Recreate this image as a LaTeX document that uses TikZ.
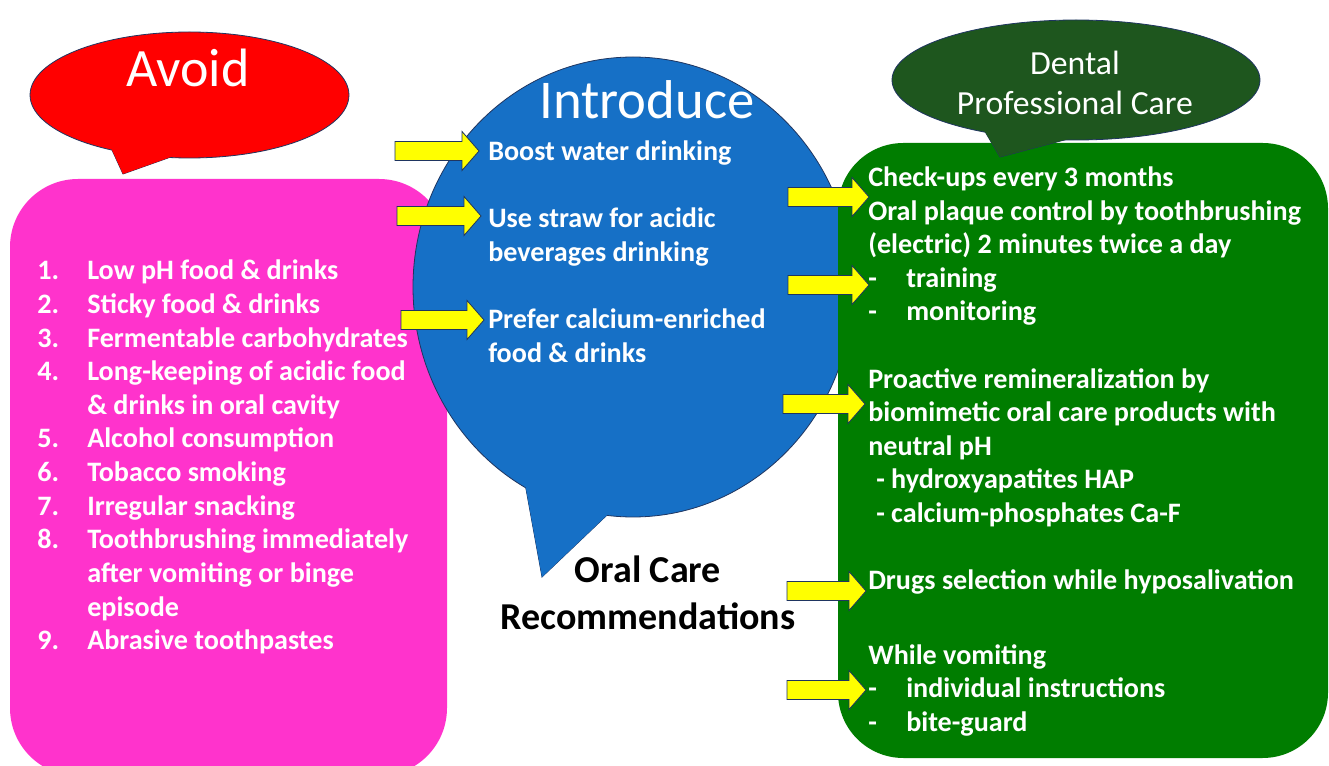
\documentclass[tikz,border=0pt]{standalone}
\usepackage{fontspec}
\setmainfont{Carlito}
\usetikzlibrary{calc}
\definecolor{pinkbox}{HTML}{FF33CC}
\definecolor{redbub}{HTML}{FF0000}
\definecolor{bluebub}{HTML}{1670C6}
\definecolor{greenbox}{HTML}{007D00}
\definecolor{dgreen}{HTML}{1E561E}
\definecolor{navy}{HTML}{1F3560}
\definecolor{yel}{HTML}{FFFF00}
\newcommand\yarr[3]{%
  \draw[yarrow] (#1,#2-9.5) -- (#3-17,#2-9.5) -- (#3-17,#2-19.5) -- (#3,#2)
    -- (#3-17,#2+19.5) -- (#3-17,#2+9.5) -- (#1,#2+9.5) -- cycle;}
\begin{document}
\begin{tikzpicture}[x=0.75pt,y=-0.75pt,
  body/.style={text=white,font=\bfseries\fontsize{21.1}{25}\selectfont,inner sep=0pt,anchor=base west},
  outl/.style={draw=navy,line width=0.6pt},
  yarrow/.style={fill=yel,draw=navy,line width=0.6pt,line join=miter},
  title/.style={text=white,inner sep=0pt,anchor=base}]
\useasboundingbox (0,0) rectangle (1329,766);
\clip (0,0) rectangle (1329,766);
\fill[white] (0,0) rectangle (1329,766);

% pink box
\fill[pinkbox,rounded corners=51pt] (10,179) rectangle (447,776);

% red bubble
\coordinate (rt) at (123,174);
\path[fill=redbub,outl] (rt) -- ($(rt)!1.5!(112,150)$) -- ($(rt)!1.5!(168,158)$) -- cycle;
\path[fill=redbub,outl] (189.5,95) ellipse [x radius=119.6pt, y radius=47.25pt];
\fill[redbub] (rt) -- ($(rt)!1.5!(112,150)$) -- ($(rt)!1.5!(168,158)$) -- cycle;
\node[title,font=\fontsize{40.5}{45}\selectfont] (avoid) at (188,87) {Avoid};

% blue bubble
\coordinate (bt) at (542,577);
\path[fill=bluebub,outl] (bt) -- ($(bt)!1.5!(526,489)$) -- ($(bt)!1.5!(605,517)$) -- cycle;
\path[fill=bluebub,outl] (633,287) ellipse [x radius=165pt, y radius=172.5pt];
\fill[bluebub] (bt) -- ($(bt)!1.5!(526,489)$) -- ($(bt)!1.5!(605,517)$) -- cycle;
\node[title,font=\fontsize{41}{46}\selectfont] (intro) at (647,119) {Introduce};

% green box
\fill[greenbox,rounded corners=49pt] (838,143) rectangle (1328,758);

% dark green bubble
\coordinate (gt) at (1000,157);
\path[fill=dgreen,outl] (gt) -- ($(gt)!1.5!(987,135)$) -- ($(gt)!1.5!(1053,143)$) -- cycle;
\path[fill=dgreen,outl] (1076,80) ellipse [x radius=138pt, y radius=45pt];
\fill[dgreen] (gt) -- ($(gt)!1.5!(987,135)$) -- ($(gt)!1.5!(1053,143)$) -- cycle;
\node[title,font=\fontsize{25.3}{30}\selectfont] (dental) at (1075,75) {Dental};
\node[title,font=\fontsize{25.3}{30}\selectfont] (profcare) at (1075,115) {Professional Care};

% left list
\foreach \n/\t [count=\i] in {1./Low pH food \& drinks, 2./Sticky food \& drinks,
   3./Fermentable carbohydrates, 4./Long-keeping of acidic food,
   /\& drinks in oral cavity, 5./Alcohol consumption, 6./Tobacco smoking,
   7./Irregular snacking, 8./Toothbrushing immediately, /after vomiting or binge,
   /episode, 9./Abrasive toothpastes}{
  \node[body] (ln\i) at (37,{280+(\i-1)*33.6}) {\n};
  \node[body] (lt\i) at (87,{280+(\i-1)*33.6}) {\t};
}

% introduce texts
\node[body] (i1) at (488,161) {Boost water drinking};
\node[body] (i2) at (488,228) {Use straw for acidic};
\node[body] (i3) at (488,262) {beverages drinking};
\node[body] (i4) at (488,329) {Prefer calcium-enriched};
\node[body] (i5) at (488,363) {food \& drinks};

% oral care
\node[anchor=base,inner sep=0pt,font=\bfseries\fontsize{28.5}{33}\selectfont] (oc1) at (648,582) {Oral Care};
\node[anchor=base,inner sep=0pt,font=\bfseries\fontsize{28.5}{33}\selectfont] (oc2) at (648,629) {Recommendations};

% right texts
\node[body] (r1) at (868,187) {Check-ups every 3 months};
\node[body] (r2) at (868,220.5) {Oral plaque control by toothbrushing};
\node[body] (r3) at (868,254) {(electric) 2 minutes twice a day};
\node[body] (r4d) at (868,288) {-};
\node[body] (r4) at (906,288) {training};
\node[body] (r5d) at (868,321) {-};
\node[body] (r5) at (906,321) {monitoring};
\node[body] (r6) at (868,389) {Proactive remineralization by};
\node[body] (r7) at (868,422) {biomimetic oral care products with};
\node[body] (r8) at (868,455.5) {neutral pH};
\node[body] (r9) at (876,489) {- hydroxyapatites HAP};
\node[body] (r10) at (876,522.5) {- calcium-phosphates Ca-F};
\node[body] (r11) at (868,589.5) {Drugs selection while hyposalivation};
\node[body] (r12) at (868,664) {While vomiting};
\node[body] (r13d) at (868,697) {-};
\node[body] (r13) at (906,697) {individual instructions};
\node[body] (r14d) at (868,731) {-};
\node[body] (r14) at (906,731) {bite-guard};

% arrows
\yarr{395}{151}{479}
\yarr{397}{216}{481}
\yarr{401}{320}{484}
\yarr{788}{197}{869}
\yarr{788}{285}{869}
\yarr{783}{404}{865}
\yarr{787}{591}{866}
\yarr{787}{690}{866}
\end{tikzpicture}
\end{document}
